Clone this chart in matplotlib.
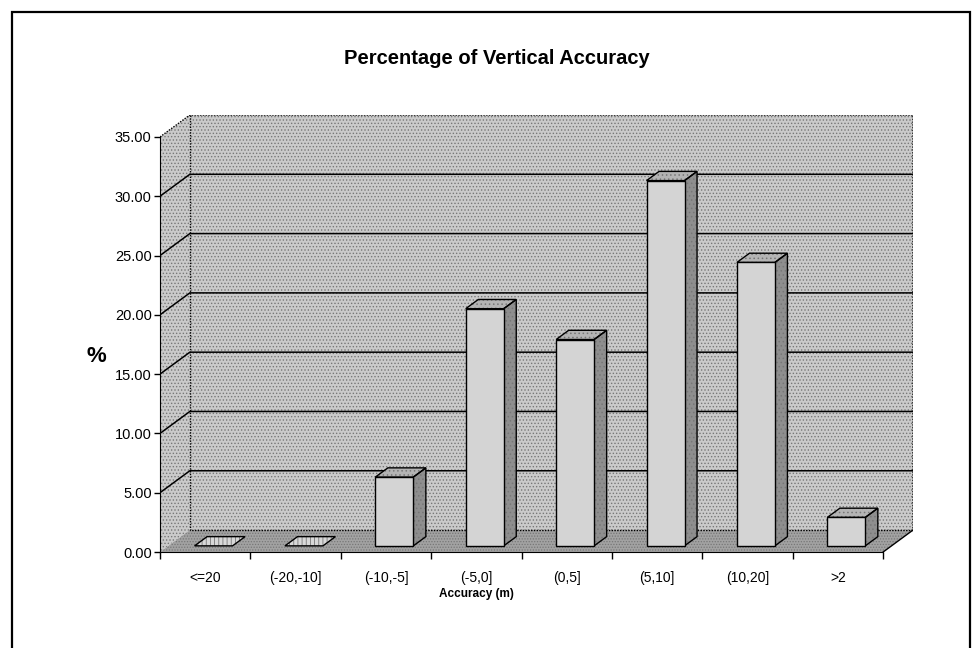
import matplotlib
matplotlib.use("Agg")
import matplotlib.pyplot as plt
from matplotlib.patches import Polygon, Rectangle

plt.rcParams['font.family'] = ['Liberation Sans', 'DejaVu Sans']
plt.rcParams['hatch.linewidth'] = 0.6

# data
categories = ['<=20', '(-20,-10]', '(-10,-5]', '(-5,0]', '(0,5]', '(5,10]', '(10,20]', '>2']
percent = [0.0, 0.0, 5.8, 20.0, 17.4, 30.8, 23.9, 2.4]
yticks = [0, 5, 10, 15, 20, 25, 30, 35]

W, H = 973, 648
fig = plt.figure(figsize=(W / 100, H / 100), dpi=100)

# axes box in pixels: front axis left 160, back wall right 913, floor 552, wall top 115
left, right, bottom, top = 160, 913, 552, 115
ax = fig.add_axes([left / W, (H - bottom) / H, (right - left) / W, (bottom - top) / H])

DX = 0.33      # depth offset in category units
DY = 1.85      # depth offset in value units
ymax = 35
n = len(categories)
x0, x1 = -0.5, n - 0.5
ax.set_xlim(x0, x1 + DX)
ax.set_ylim(0, ymax + DY)

wall = '#cacaca'
floor = '#a2a2a2'
dots = '#777777'


def face(pts, fc, hatch='.....', z=1):
    ax.add_patch(Polygon(pts, closed=True, facecolor=fc, edgecolor='none', zorder=z))
    if hatch:
        ax.add_patch(Polygon(pts, closed=True, facecolor='none', edgecolor=dots,
                             lw=0, hatch=hatch, zorder=z))


# back wall, left wall, floor
face([(x0 + DX, DY), (x1 + DX, DY), (x1 + DX, ymax + DY), (x0 + DX, ymax + DY)], wall)
face([(x0, 0), (x0 + DX, DY), (x0 + DX, ymax + DY), (x0, ymax)], wall)
face([(x0, 0), (x1, 0), (x1 + DX, DY), (x0 + DX, DY)], floor, hatch='......')

# gridlines
for v in yticks[1:-1]:
    ax.plot([x0, x0 + DX, x1 + DX], [v, v + DY, v + DY], color='black', lw=1.1, zorder=2)
ax.plot([x0, x0 + DX, x1 + DX, x1 + DX], [ymax, ymax + DY, ymax + DY, DY],
        color='black', lw=1.0, ls=(0, (1, 1)), zorder=2)
ax.plot([x0 + DX, x0 + DX, x1 + DX], [ymax + DY, DY, DY], color='black', lw=1.0,
        ls=(0, (1, 1)), zorder=2)
ax.plot([x1, x1 + DX], [0, DY], color='black', lw=1.0, zorder=2)

# 3d-style bars
bw = 0.42      # bar width
f0 = 0.28      # front of bar, fraction of depth
bd = 0.42      # bar depth, fraction of depth
xs = [i + f0 * DX for i in range(n)]
base = f0 * DY
ddx, ddy = bd * DX, bd * DY
for x, v in zip(xs, percent):
    xa, xb = x - bw / 2, x + bw / 2
    yt = base + v
    top_pts = [(xa, yt), (xb, yt), (xb + ddx, yt + ddy), (xa + ddx, yt + ddy)]
    if v > 0:
        side = [(xb, base), (xb + ddx, base + ddy), (xb + ddx, yt + ddy), (xb, yt)]
        face(side, '#8e8e8e', hatch='....', z=4)
        ax.add_patch(Polygon(side, closed=True, fill=False, edgecolor='black', lw=1.0, zorder=5))
        face(top_pts, '#b4b4b4', hatch='....', z=4)
    else:
        face(top_pts, '#d8d8d8', hatch='||||', z=4)
    ax.add_patch(Polygon(top_pts, closed=True, fill=False, edgecolor='black', lw=1.0, zorder=5))
ax.bar(xs, percent, width=bw, bottom=base, color='#d4d4d4',
       edgecolor=['none' if v == 0 else 'black' for v in percent], linewidth=1.0, zorder=5)

# axes lines and ticks
for s in ['top', 'right']:
    ax.spines[s].set_visible(False)
ax.spines['left'].set_bounds(0, ymax)
ax.spines['bottom'].set_bounds(x0, x1)
ax.spines['left'].set_zorder(6)
ax.spines['bottom'].set_zorder(6)
ax.set_yticks(yticks)
ax.set_yticklabels(['%.2f' % v for v in yticks])
ax.tick_params(axis='y', direction='out', length=4, width=1, labelsize=10.5, pad=2)
ax.set_xticks(range(n))
ax.set_xticklabels(categories)
ax.set_xticks([i - 0.5 for i in range(n + 1)], minor=True)
ax.tick_params(axis='x', which='major', length=0, labelsize=10, pad=14)
ax.tick_params(axis='x', which='minor', direction='out', length=5, width=1)

fig.text(497 / W, 1 - 58 / H, 'Percentage of Vertical Accuracy', ha='center', va='center',
         fontsize=14.5, fontweight='bold')
fig.text(96 / W, 1 - 357 / H, '%', ha='center', va='center', fontsize=16, fontweight='bold')
fig.text(476 / W, 1 - 594 / H, 'Accuracy (m)', ha='center', va='center', fontsize=8.5,
         fontweight='bold')

fig.add_artist(Rectangle((12 / W, -0.02), 958 / W, 1 - 12 / H + 0.02, transform=fig.transFigure,
                         fill=False, edgecolor='black', lw=1.6))

fig.savefig('out.png', dpi=100)
